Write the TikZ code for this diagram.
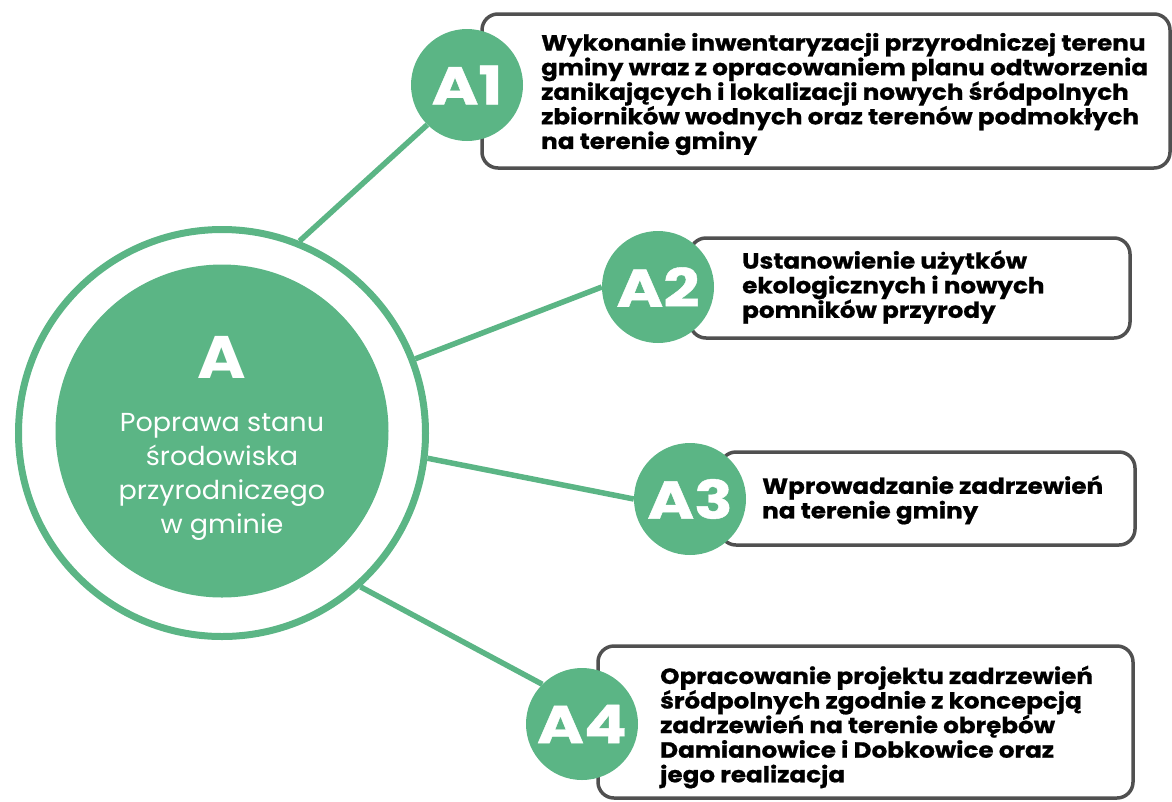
\documentclass[tikz,border=0pt]{standalone}
\usepackage{fontspec}
\setmainfont{Poppins}
\newfontfamily\heavyfont[FakeStretch=1.12,FakeBold=0.8]{Poppins}
\newfontfamily\labelfont[FakeStretch=1.2,FakeBold=0.8]{Poppins}
\newfontfamily\bigfont[FakeStretch=1.1]{Poppins}
\newfontfamily\softfont[FakeStretch=1.04]{Poppins}
\definecolor{ggreen}{HTML}{5BB585}
\definecolor{bgray}{HTML}{505050}
\begin{document}
\begin{tikzpicture}[x=1pt,y=-1pt,
  conn/.style={draw=ggreen,line width=5.5pt},
  subcirc/.style={circle,fill=ggreen,minimum size=112pt,inner sep=0pt,text=white,font=\labelfont\fontsize{53}{53}\selectfont\bfseries},
  taskbox/.style={draw=bgray,line width=3.5pt,rounded corners=16pt,fill=white,rectangle,inner sep=0pt},
  tasktext/.style={anchor=west,inner sep=0pt,align=left,font=\heavyfont\fontsize{22}{24.6}\selectfont\bfseries,text=black}]
\useasboundingbox (0,0) rectangle (1172,801);
% central circles
\node[circle,draw=ggreen,line width=7pt,minimum size=407pt,inner sep=0pt] (ring) at (222,433) {};
\node[circle,fill=ggreen,minimum size=333pt,inner sep=0pt] (core) at (222,431) {};
\node[text=white,font=\bigfont\fontsize{60}{60}\selectfont\bfseries,inner sep=0pt] (Alab) at (222,357) {A};
\node[text=white,font=\softfont\fontsize{26}{34}\selectfont,align=center,inner sep=0pt] (Atxt) at (222,477) {Poprawa stanu\\środowiska\\przyrodniczego\\w gminie};
% boxes
\node[taskbox,minimum width=688pt,minimum height=154pt] (b1) at (826,91) {};
\node[taskbox,minimum width=440pt,minimum height=100pt] (b2) at (910,288) {};
\node[taskbox,minimum width=415pt,minimum height=93pt] (b3) at (927.5,498.5) {};
\node[taskbox,minimum width=535pt,minimum height=152pt] (b4) at (865.5,722) {};
% sub circles
\node[subcirc] (c1) at (467,85) {A1};
\node[subcirc] (c2) at (658,287) {A2};
\node[subcirc] (c3) at (690,499) {A3};
\node[subcirc] (c4) at (582,724) {A4};
% connectors
\draw[conn] (ring.68.8) -- (c1.south west);
\draw[conn] (ring.21.8) -- (c2.west);
\draw[conn] (ring.-7.9) -- (c3.west);
\draw[conn] (ring.-48) -- (c4.north west);
% texts
\node[tasktext] (t1) at (541,94) {Wykonanie inwentaryzacji przyrodniczej terenu\\gminy wraz z opracowaniem planu odtworzenia\\zanikających i lokalizacji nowych śródpolnych\\zbiorników wodnych oraz terenów podmokłych\\na terenie gminy};
\node[tasktext] (t2) at (742,287) {Ustanowienie użytków\\ekologicznych i nowych\\pomników przyrody};
\node[tasktext] (t3) at (762,500) {Wprowadzanie zadrzewień\\na terenie gminy};
\node[tasktext] (t4) at (660,727) {Opracowanie projektu zadrzewień\\śródpolnych zgodnie z koncepcją\\zadrzewień na terenie obrębów\\Damianowice i Dobkowice oraz\\jego realizacja};
\end{tikzpicture}
\end{document}
